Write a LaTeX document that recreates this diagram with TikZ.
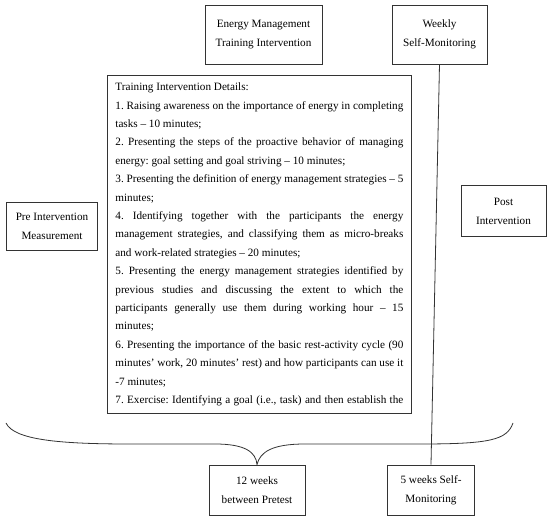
\documentclass[tikz,border=0pt]{standalone}
\usepackage{fontspec}
\setmainfont{Liberation Serif}
\usetikzlibrary{positioning}

\begin{document}
\frenchspacing
\begin{tikzpicture}[
    x=1pt, y=-1pt,
    box/.style={rectangle, draw=black!80, line width=0.8pt, align=center, inner sep=0pt, font=\fontsize{11.2}{19}\selectfont},
    detailbox/.style={rectangle, draw=black!80, line width=0.8pt, align=justify, text width=288pt, inner xsep=8pt, inner ysep=0pt, minimum height=338pt, font=\fontsize{11.2}{18.4}\selectfont},
    link/.style={draw=black!80, line width=0.8pt}
]
\useasboundingbox (0,0) rectangle (550,516);

% Top boxes
\node[box, minimum width=117pt, minimum height=59pt] (training) at (263.5,34.5) {Energy Management\\Training Intervention};
\node[box, minimum width=95pt, minimum height=59pt] (weekly) at (439.5,34.5) {Weekly\\Self-Monitoring};

% Side boxes
\node[box, minimum width=91pt, minimum height=48pt] (pre) at (52,226) {Pre Intervention\\Measurement};
\node[box, minimum width=85pt, minimum height=51pt] (post) at (503.5,211) {Post\\Intervention};

% Details of the training
\node[detailbox, anchor=north west] (details) at (107,75) {Training Intervention Details:\\
1. Raising awareness on the importance of energy in completing\linebreak tasks -- 10 minutes;\\
2. Presenting the steps of the proactive behavior of managing\linebreak energy: goal setting and goal striving -- 10 minutes;\\
3. Presenting the definition of energy management strategies -- 5\linebreak minutes;\\
4. Identifying together with the participants the energy\linebreak management strategies, and classifying them as micro-breaks\linebreak and work-related strategies -- 20 minutes;\\
5. Presenting the energy management strategies identified by\linebreak previous studies and discussing the extent to which the\linebreak participants generally use them during working hour -- 15\linebreak minutes;\\
6. Presenting the importance of the basic rest-activity cycle (90\linebreak minutes' work, 20 minutes' rest) and how participants can use it\linebreak -7 minutes;\\
7. Exercise: Identifying a goal (i.e., task) and then establish the\parfillskip=0pt\par};

% Bottom boxes
\node[box, minimum width=96pt, minimum height=50pt] (twelve) at (257,490) {12 weeks\\between Pretest};
\node[box, minimum width=87pt, minimum height=50pt] (five) at (431,490) {5 weeks Self-\\Monitoring};

% Monitoring line
\draw[link] (weekly.south) -- (five.north);

% Brace over the whole period
\coordinate (braceL) at (6,423);
\coordinate (braceR) at (513,423);
\draw[link] (braceL) .. controls (14,440) and (60,444) .. (130,444) -- (215,444)
    .. controls (245,444) and (256,452) .. (twelve.north)
    .. controls (260,452) and (272,444) .. (305,444) -- (420,444)
    .. controls (490,444) and (507,440) .. (braceR);

\end{tikzpicture}
\end{document}
